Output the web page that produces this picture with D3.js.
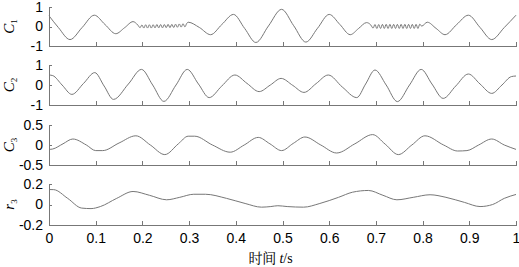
<!DOCTYPE html>
<html>
<head>
<meta charset="utf-8">
<title>IMF components</title>
<script src="https://d3js.org/d3.v7.min.js"></script>
<style>
  body { margin: 0; background: #fff; }
  .axis path, .axis line { stroke: #777; shape-rendering: crispEdges; }
  .axis text { font-family: "Liberation Sans", Arial, sans-serif; font-size: 14px; fill: #000; }
  .trace { fill: none; stroke: #777; stroke-width: 1; }
</style>
</head>
<body>
<div id="chart"></div>
<script>
// x ticks (time, s)
const xTicks = [0, 0.1, 0.2, 0.3, 0.4, 0.5, 0.6, 0.7, 0.8, 0.9, 1];

// C1: key points [t, value]
const c1 = [
  [0, 0.55], [0.02, -0.05], [0.045, -0.67], [0.071, -0.05], [0.097, 0.58], [0.12, 0.1],
  [0.143, -0.37], [0.162, -0.06], [0.18, 0.25], [0.19, 0.08],
  [0.195, -0.06], [0.199, 0.08], [0.203, -0.08], [0.207, 0.09], [0.211, -0.08], [0.215, 0.09],
  [0.219, -0.08], [0.223, 0.09], [0.227, -0.07], [0.231, 0.1], [0.235, -0.07], [0.239, 0.1],
  [0.243, -0.07], [0.247, 0.1], [0.251, -0.06], [0.255, 0.11], [0.259, -0.06], [0.263, 0.11],
  [0.267, -0.05], [0.271, 0.12], [0.275, -0.04], [0.279, 0.13], [0.283, -0.03], [0.287, 0.14],
  [0.291, -0.02], [0.295, 0.16],
  [0.298, 0.22], [0.322, -0.05], [0.346, -0.42], [0.37, 0.1], [0.395, 0.62], [0.419, -0.1],
  [0.443, -0.82], [0.47, 0.03], [0.498, 0.88], [0.524, 0.04], [0.55, -0.8], [0.575, -0.09],
  [0.6, 0.62], [0.623, 0.1], [0.645, -0.42], [0.663, -0.1], [0.68, 0.2], [0.689, 0.08],
  [0.694, -0.08], [0.698, 0.1], [0.702, -0.1], [0.706, 0.1], [0.71, -0.1], [0.714, 0.11],
  [0.718, -0.1], [0.722, 0.11], [0.726, -0.1], [0.73, 0.11], [0.734, -0.1], [0.738, 0.11],
  [0.742, -0.1], [0.746, 0.11], [0.75, -0.1], [0.754, 0.11], [0.758, -0.1], [0.762, 0.11],
  [0.766, -0.1], [0.77, 0.11], [0.774, -0.1], [0.778, 0.11], [0.782, -0.1], [0.786, 0.11],
  [0.79, -0.1], [0.794, 0.12], [0.798, 0.02],
  [0.81, 0.22], [0.829, -0.1], [0.848, -0.42], [0.873, 0.1], [0.898, 0.58], [0.923, -0.05],
  [0.948, -0.67], [0.975, -0.05], [1.0, 0.58]
];

// C2
const c2 = [
  [0, 0.5], [0.008, 0.47], [0.028, 0.0], [0.049, -0.47], [0.074, 0.08], [0.098, 0.62],
  [0.118, -0.05], [0.138, -0.72], [0.17, 0.05], [0.198, 0.78], [0.222, 0.0], [0.246, -0.82],
  [0.272, 0.0], [0.296, 0.78], [0.32, 0.05], [0.343, -0.63], [0.37, -0.05], [0.398, 0.5],
  [0.424, 0.08], [0.45, -0.33], [0.474, 0.0], [0.497, 0.33], [0.522, -0.02], [0.546, -0.37],
  [0.572, 0.07], [0.598, 0.5], [0.628, -0.1], [0.659, -0.63], [0.678, 0.05], [0.698, 0.75],
  [0.722, 0.0], [0.746, -0.83], [0.772, 0.0], [0.797, 0.78], [0.82, 0.05], [0.844, -0.67],
  [0.871, -0.05], [0.898, 0.55], [0.923, 0.05], [0.948, -0.42], [0.97, 0.0], [0.99, 0.42],
  [1.0, 0.45]
];

// C3
const c3 = [
  [0, -0.11], [0.008, -0.1], [0.03, 0.03], [0.051, 0.15], [0.08, 0.0], [0.1, -0.14],
  [0.115, -0.14], [0.15, 0.05], [0.186, 0.23], [0.217, 0.0], [0.248, -0.24], [0.277, 0.03],
  [0.298, 0.22], [0.312, 0.22], [0.35, 0.0], [0.388, -0.18], [0.418, 0.0], [0.448, 0.19],
  [0.473, 0.03], [0.498, -0.14], [0.523, 0.04], [0.548, 0.2], [0.582, 0.0], [0.616, -0.2],
  [0.655, 0.03], [0.693, 0.26], [0.72, 0.02], [0.748, -0.24], [0.777, 0.0], [0.805, 0.23],
  [0.845, 0.0], [0.875, -0.15], [0.895, -0.14], [0.92, 0.0], [0.948, 0.15], [0.975, 0.0],
  [1.0, -0.11]
];

// r3 (residual)
const r3 = [
  [0, 0.146], [0.01, 0.145], [0.04, 0.06], [0.07, -0.035], [0.09, -0.04], [0.11, -0.02],
  [0.145, 0.06], [0.18, 0.127], [0.215, 0.09], [0.252, 0.046], [0.28, 0.07], [0.31, 0.1],
  [0.335, 0.1], [0.38, 0.06], [0.42, 0.01], [0.455, -0.026], [0.475, -0.02], [0.49, -0.012],
  [0.51, -0.02], [0.545, -0.026], [0.58, 0.01], [0.62, 0.07], [0.65, 0.12], [0.684, 0.137],
  [0.715, 0.09], [0.745, 0.046], [0.78, 0.07], [0.816, 0.095], [0.85, 0.07], [0.89, 0.02],
  [0.923, -0.02], [0.95, 0.0], [0.975, 0.06], [1.0, 0.098]
];

const yDomains = [[-1, 1], [-1, 1], [-0.5, 0.5], [-0.2, 0.2]];
const yTicks = [[-1, 0, 1], [-1, 0, 1], [-0.5, 0, 0.5], [-0.2, 0, 0.2]];
const labels = [["C", "1"], ["C", "2"], ["C", "3"], ["r", "3"]];
const series = [c1, c2, c3, r3];

const W = 519, H = 267;
const left = 49, right = 516;
const panelTops = [7, 65, 125, 184];
const panelHs = [39, 40, 40, 41];

const svg = d3.select("#chart").append("svg")
  .attr("width", W).attr("height", H);

const x = d3.scaleLinear().domain([0, 1]).range([left, right]);

series.forEach((data, i) => {
  const top = panelTops[i], bottom = top + panelHs[i];
  const y = d3.scaleLinear().domain(yDomains[i]).range([bottom, top]);

  // bottom axis, ticks pointing inward
  svg.append("g").attr("class", "axis")
    .attr("transform", `translate(0,${bottom})`)
    .call(d3.axisBottom(x).tickValues(xTicks).tickSizeInner(-4).tickSizeOuter(0)
      .tickPadding(8).tickFormat(i === 3 ? d => String(d) : () => ""));

  // left axis
  svg.append("g").attr("class", "axis")
    .attr("transform", `translate(${left},0)`)
    .call(d3.axisLeft(y).tickValues(yTicks[i]).tickSizeInner(-3).tickSizeOuter(0)
      .tickPadding(6).tickFormat(d => String(d)));

  const line = d3.line()
    .x(d => x(d[0]))
    .y(d => y(d[1]))
    .curve(d3.curveMonotoneX);

  svg.append("path").datum(data).attr("class", "trace").attr("d", line);

  // rotated y label
  const lab = svg.append("text")
    .attr("transform", `translate(14,${(top + bottom) / 2}) rotate(-90)`)
    .attr("text-anchor", "middle")
    .style("font-family", "'Liberation Serif', 'Times New Roman', serif")
    .style("font-style", "italic")
    .style("font-size", "15px");
  lab.append("tspan").text(labels[i][0]);
  lab.append("tspan").attr("dy", 3).style("font-size", "9px").style("font-style", "normal").text(labels[i][1]);
});

// x label
const xl = svg.append("text")
  .attr("x", (left + right) / 2 - 12)
  .attr("y", 263)
  .attr("text-anchor", "middle")
  .style("font-family", "'Liberation Serif', 'Times New Roman', serif")
  .style("font-size", "14px");
xl.append("tspan").style("font-family", "'Noto Serif CJK SC', 'Noto Sans CJK SC', serif").text("时间");
xl.append("tspan").attr("dx", 3).style("font-style", "italic").text("t");
xl.append("tspan").text("/s");
</script>
</body>
</html>
